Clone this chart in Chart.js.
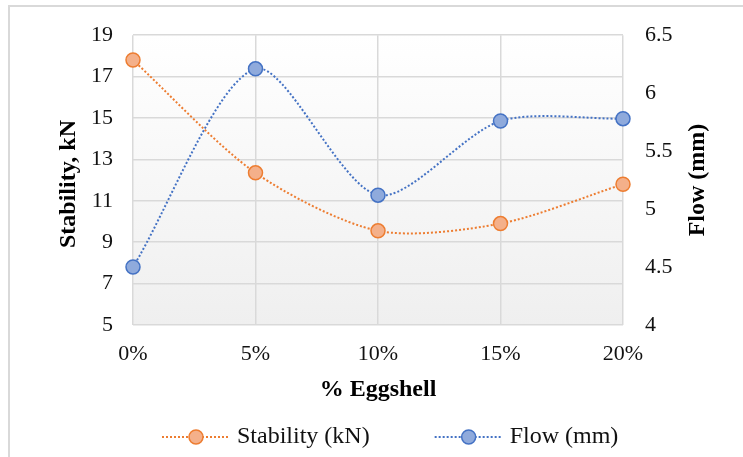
<!DOCTYPE html>
<html>
<head>
<meta charset="utf-8">
<script src="https://cdn.jsdelivr.net/npm/chart.js@4.4.1/dist/chart.umd.min.js"></script>
<style>
  html, body { margin: 0; padding: 0; background: #ffffff; }
  #wrap { width: 743px; height: 457px; position: relative; }
</style>
</head>
<body>
<div id="wrap"><canvas id="chart" width="743" height="457"></canvas></div>
<script>
// Marshall test results versus eggshell replacement
const categories = ['0%', '5%', '10%', '15%', '20%'];
const stabilityKN = [17.8, 12.35, 9.55, 9.9, 11.8];
const flowMM = [4.5, 6.21, 5.12, 5.76, 5.78];
const stabilityTicks = { min: 5, max: 19, step: 2 };
const flowTicks = { min: 4, max: 6.5, step: 0.5 };

const SERIF = '"Liberation Serif", "Times New Roman", serif';
const ORANGE = '#ed7d31', ORANGE_FILL = '#f4b08a';
const BLUE = '#4472c4', BLUE_FILL = '#8faadc';
const GRID = '#d9d9d9';

// Frame, plot gradient, axis titles and the legend
const decor = {
  id: 'decor',
  beforeDraw(chart) {
    const { ctx, chartArea: a } = chart;
    ctx.save();
    ctx.fillStyle = '#ffffff';
    ctx.fillRect(0, 0, chart.width, chart.height);
    ctx.strokeStyle = '#d9d9d9';
    ctx.lineWidth = 2;
    ctx.beginPath();
    ctx.moveTo(9, chart.height + 5);
    ctx.lineTo(9, 6);
    ctx.lineTo(chart.width + 5, 6);
    ctx.stroke();
    const g = ctx.createLinearGradient(0, a.top, 0, a.bottom);
    g.addColorStop(0, '#ffffff');
    g.addColorStop(1, '#efefef');
    ctx.fillStyle = g;
    ctx.fillRect(a.left, a.top, a.right - a.left, a.bottom - a.top);
    ctx.restore();
  },
  afterDraw(chart) {
    const { ctx, chartArea: a } = chart;
    ctx.save();
    ctx.fillStyle = '#000000';
    ctx.font = 'bold 24px ' + SERIF;
    ctx.textAlign = 'center';
    ctx.textBaseline = 'middle';
    ctx.fillText('% Eggshell', (a.left + a.right) / 2, 390);

    ctx.save();
    ctx.translate(69, 184);
    ctx.rotate(-Math.PI / 2);
    ctx.fillText('Stability, kN', 0, 0);
    ctx.restore();

    ctx.save();
    ctx.translate(698, 180);
    ctx.rotate(-Math.PI / 2);
    ctx.fillText('Flow (mm)', 0, 0);
    ctx.restore();

    // legend: dotted line with marker, then label
    ctx.font = '24px ' + SERIF;
    ctx.textAlign = 'left';
    const items = chart.data.datasets.map(ds => ({
      label: ds.label, line: ds.borderColor, fill: ds.pointBackgroundColor
    }));
    const y = 437;
    let x = 162;
    items.forEach(it => {
      ctx.save();
      ctx.strokeStyle = it.line;
      ctx.lineWidth = 2;
      ctx.setLineDash([2, 2]);
      ctx.beginPath();
      ctx.moveTo(x, y);
      ctx.lineTo(x + 66, y);
      ctx.stroke();
      ctx.setLineDash([]);
      ctx.beginPath();
      ctx.arc(x + 34, y, 7, 0, Math.PI * 2);
      ctx.fillStyle = it.fill;
      ctx.fill();
      ctx.lineWidth = 1.5;
      ctx.stroke();
      ctx.restore();
      ctx.fillStyle = '#111111';
      ctx.fillText(it.label, x + 75, y);
      x += 75 + ctx.measureText(it.label).width + 65;
    });
    ctx.restore();
  }
};

const tickFont = { family: SERIF, size: 22 };

new Chart(document.getElementById('chart'), {
  type: 'line',
  data: {
    labels: categories,
    datasets: [
      {
        label: 'Stability (kN)',
        data: stabilityKN,
        yAxisID: 'y',
        borderColor: ORANGE,
        backgroundColor: ORANGE_FILL,
        pointBackgroundColor: ORANGE_FILL,
        pointBorderColor: ORANGE,
        borderWidth: 2,
        borderDash: [2, 2],
        pointRadius: 7,
        pointBorderWidth: 1.5,
        tension: 0.28,
        clip: false
      },
      {
        label: 'Flow (mm)',
        data: flowMM,
        yAxisID: 'y1',
        borderColor: BLUE,
        backgroundColor: BLUE_FILL,
        pointBackgroundColor: BLUE_FILL,
        pointBorderColor: BLUE,
        borderWidth: 2,
        borderDash: [2, 2],
        pointRadius: 7,
        pointBorderWidth: 1.5,
        tension: 0.28,
        clip: false
      }
    ]
  },
  options: {
    responsive: false,
    animation: false,
    layout: { padding: { top: 35, left: 0, right: 0, bottom: 0 } },
    plugins: { legend: { display: false }, tooltip: { enabled: false } },
    scales: {
      x: {
        offset: false,
        grid: { color: GRID, lineWidth: 1.5, drawTicks: false },
        border: { display: false },
        ticks: { font: tickFont, color: '#111111', padding: 16, maxRotation: 0 },
        afterFit(s) { s.height = 132; }
      },
      y: {
        position: 'left',
        min: stabilityTicks.min,
        max: stabilityTicks.max,
        grid: { color: GRID, lineWidth: 1.5, drawTicks: false },
        border: { display: false },
        ticks: { stepSize: stabilityTicks.step, font: tickFont, color: '#111111', padding: 20 },
        afterFit(s) { s.width = 133; }
      },
      y1: {
        position: 'right',
        min: flowTicks.min,
        max: flowTicks.max,
        grid: { display: false, drawTicks: false },
        border: { display: false },
        ticks: {
          stepSize: flowTicks.step, font: tickFont, color: '#111111', padding: 22,
          callback: v => String(v)
        },
        afterFit(s) { s.width = 120; }
      }
    }
  },
  plugins: [decor]
});
</script>
</body>
</html>
